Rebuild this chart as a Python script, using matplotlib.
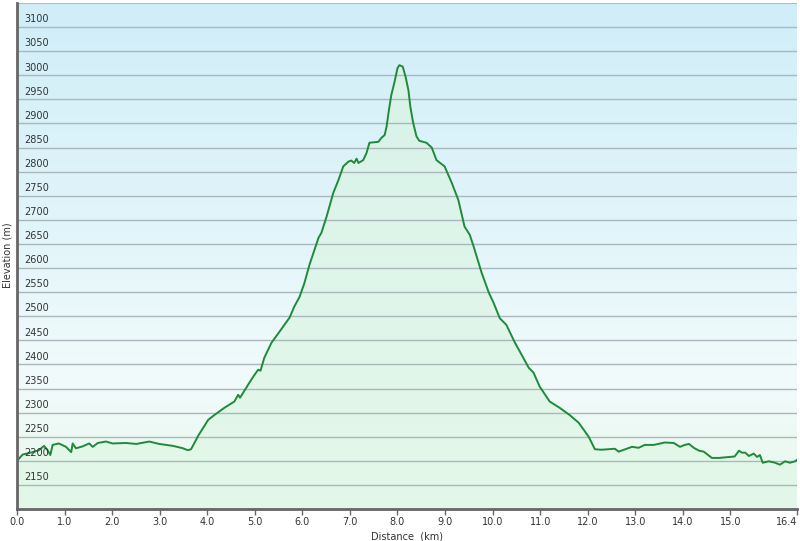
import numpy as np
import matplotlib
matplotlib.use("Agg")
import matplotlib.pyplot as plt
from matplotlib.colors import LinearSegmentedColormap
from matplotlib.patches import Polygon
import matplotlib.transforms as mtransforms

distance_km = [0.0, 0.12, 0.33, 0.46, 0.57, 0.65, 0.70, 0.75, 0.88, 1.03, 1.14, 1.17, 1.24, 1.38,
               1.52, 1.59, 1.70, 1.87, 2.01, 2.29, 2.51, 2.78, 2.99, 3.28, 3.49, 3.59, 3.66,
               3.81, 4.02, 4.15, 4.36, 4.57, 4.65,
               4.69, 4.86, 4.97, 5.07, 5.12, 5.20, 5.35, 5.52, 5.62, 5.73, 5.83, 5.94, 6.04, 6.15,
               6.34, 6.40, 6.51, 6.65, 6.76, 6.86, 6.97, 7.03, 7.09, 7.14, 7.18, 7.28, 7.35, 7.41,
               7.60, 7.66, 7.73, 7.77, 7.82, 7.87, 7.94, 8.00, 8.04, 8.11, 8.17, 8.23, 8.27, 8.33,
               8.40, 8.46, 8.61, 8.72,
               8.82, 8.99, 9.14, 9.28, 9.41, 9.52, 9.60, 9.77, 9.92, 10.02, 10.15, 10.29, 10.46,
               10.76, 10.86, 10.99, 11.20, 11.41, 11.62, 11.81, 12.02, 12.15, 12.29, 12.57, 12.65,
               12.93, 13.07, 13.20, 13.39, 13.62, 13.81, 13.94, 14.04, 14.13, 14.23, 14.34, 14.44,
               14.61, 14.76, 14.97, 15.09, 15.18, 15.24, 15.31, 15.39, 15.49, 15.56, 15.62, 15.68,
               15.81, 15.94, 16.04, 16.15, 16.25, 16.36, 16.40]
elevation_m = [2200, 2213, 2218, 2222, 2231, 2221, 2212, 2233, 2236, 2229, 2218, 2236, 2226, 2230,
               2236, 2229, 2237, 2240, 2236, 2237, 2235, 2240, 2235, 2231, 2226, 2222, 2224,
               2252, 2285, 2295, 2310, 2323, 2337,
               2331, 2358, 2375, 2389, 2387, 2414, 2445, 2468, 2482, 2497, 2520, 2540, 2568, 2607,
               2663, 2673, 2707, 2756, 2783, 2811, 2821, 2823, 2818, 2827, 2818, 2824, 2839, 2860,
               2862, 2870, 2876, 2893, 2928, 2959, 2987, 3015, 3021, 3018, 2997, 2969, 2935, 2901,
               2873, 2864, 2860, 2850,
               2824, 2811, 2777, 2741, 2686, 2669, 2645, 2590, 2549, 2528, 2496, 2482, 2447,
               2393, 2383, 2354, 2323, 2310, 2295, 2279, 2250, 2224, 2223, 2225, 2219,
               2229, 2227, 2233, 2233, 2238, 2237, 2229, 2233, 2235, 2227, 2221, 2219,
               2206, 2206, 2208, 2209, 2221, 2217, 2217, 2210, 2215, 2208, 2212, 2196,
               2199, 2196, 2192, 2199, 2196, 2199, 2202]

x_ticks = [0.0, 1.0, 2.0, 3.0, 4.0, 5.0, 6.0, 7.0, 8.0, 9.0, 10.0, 11.0, 12.0, 13.0, 14.0, 15.0, 16.4]
y_ticks = [2150, 2200, 2250, 2300, 2350, 2400, 2450, 2500, 2550, 2600, 2650, 2700, 2750, 2800,
           2850, 2900, 2950, 3000, 3050, 3100]

plt.rcParams['font.family'] = ['Verdana', 'DejaVu Sans']
fig = plt.figure(figsize=(8, 5.41), dpi=100)
ax = fig.add_axes([17/800, 1-509/541, 780/800, 506/541])
xmin, xmax, ymin, ymax = 0.0, 16.4, 2100, 3150

# background gradient (row 0 = top)
bg_cmap = LinearSegmentedColormap.from_list('bg', [
    (0.0, '#d0eef8'), (0.45, '#e2f5fa'), (0.75, '#f2fbfb'), (1.0, '#e6f8ea')])
grad = np.linspace(0, 1, 256).reshape(-1, 1)
ax.imshow(grad, cmap=bg_cmap, extent=[xmin, xmax, ymin, ymax], aspect='auto',
          zorder=0, origin='upper')

# fill gradient under the curve
fill_cmap = LinearSegmentedColormap.from_list('fill', [
    (0.0, '#d6f2e8'), (0.5, '#def5ea'), (1.0, '#e4f8e8')])
img = ax.imshow(grad, cmap=fill_cmap, extent=[xmin, xmax, ymin, ymax], aspect='auto',
                zorder=1, origin='upper')
poly_pts = [(distance_km[0], ymin)] + list(zip(distance_km, elevation_m)) + [(distance_km[-1], ymin)]
poly = Polygon(poly_pts, closed=True, facecolor='none', edgecolor='none', transform=ax.transData)
ax.add_patch(poly)
img.set_clip_path(poly)

ax.set_xlim(xmin, xmax)
ax.set_ylim(ymin, ymax)

# grid
for v in y_ticks:
    ax.axhline(v, color='#aab7bb', lw=1.0, zorder=2)
ax.axhline(3150, color='#b5bcbf', lw=1.5, zorder=2)

ax.plot(distance_km, elevation_m, color='#1e8a3a', lw=1.4, zorder=4, solid_joinstyle='round')

# y labels inside the plot
trans = mtransforms.blended_transform_factory(ax.transAxes, ax.transData)
for v in y_ticks:
    ax.annotate(str(v), xy=(0, v), xycoords=trans, xytext=(5, 2), textcoords='offset points',
                fontsize=7, color='#333333', va='bottom', ha='left', zorder=5)
ax.set_yticks([])

ax.set_xticks(x_ticks)
labels = ax.set_xticklabels([f"{t:.1f}" for t in x_ticks], fontsize=7, color='#333333')
labels[-1].set_horizontalalignment('right')
ax.tick_params(axis='x', direction='out', length=4, width=1, color='#666666', pad=2)

for s in ['top', 'right']:
    ax.spines[s].set_visible(False)
ax.spines['left'].set_color('#666666')
ax.spines['left'].set_linewidth(2)
ax.spines['bottom'].set_color('#666666')
ax.spines['bottom'].set_linewidth(2)
ax.spines['left'].set_zorder(6)
ax.spines['bottom'].set_zorder(6)

ax.set_xlabel('Distance  (km)', fontsize=7, color='#333333', labelpad=3)
fig.text(8/800, 1-255/541, 'Elevation (m)', rotation=90, fontsize=7, color='#333333',
         ha='center', va='center')

fig.savefig('out.png', dpi=100)
